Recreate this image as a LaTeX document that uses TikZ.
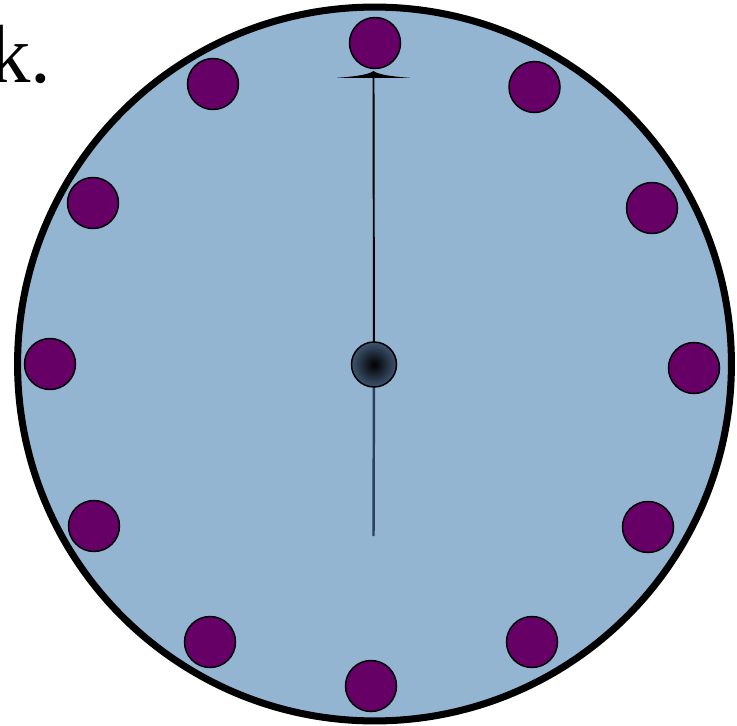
\documentclass[tikz,border=0pt]{standalone}
\usepackage{fontspec}
\setmainfont{Liberation Serif}
\usetikzlibrary{arrows.meta,positioning}

\definecolor{faceblue}{RGB}{148,181,210}
\definecolor{markpurple}{RGB}{102,0,102}
\definecolor{hubslate}{RGB}{62,84,112}
\definecolor{tailslate}{RGB}{44,64,94}

\begin{document}
\begin{tikzpicture}[
  x=0.02cm, y=-0.02cm,
  face/.style={circle, draw=black, line width=4pt, fill=faceblue, minimum size=14.28cm, inner sep=0pt},
  hourmark/.style={circle, draw=black, line width=0.85pt, fill=markpurple, minimum size=1.02cm, inner sep=0pt},
  hub/.style={circle, draw=black, line width=0.85pt, inner color=black, outer color=hubslate, minimum size=0.9cm, inner sep=0pt},
]
  \useasboundingbox (0,0) rectangle (737,726);
  \clip (0,0) rectangle (737,726);

  \node[face] (face) at (374.5,364) {};

  % hour marks
  \node[hourmark] (h12) at (375,43) {};
  \node[hourmark] (h1) at (534.5,87) {};
  \node[hourmark] (h2) at (652,208) {};
  \node[hourmark] (h3) at (694,368) {};
  \node[hourmark] (h4) at (648,527) {};
  \node[hourmark] (h5) at (532,642) {};
  \node[hourmark] (h6) at (371,686) {};
  \node[hourmark] (h7) at (210,642) {};
  \node[hourmark] (h8) at (94,526) {};
  \node[hourmark] (h9) at (50,364) {};
  \node[hourmark] (h10) at (93,203) {};
  \node[hourmark] (h11) at (213,84) {};

  % hand
  \coordinate (tip) at (373.5,77);
  \coordinate (tail) at (373.5,536);
  \draw[line width=1.4pt, tailslate] (374,364) -- (tail);
  \draw[line width=1.1pt, black] (374,364) -- (tip);
  \fill[black] (337,77.8) .. controls (356,76.5) and (369,74.5) .. (373.5,71)
    .. controls (378,74.5) and (391,76.5) .. (410,77.8) -- cycle;
  \node[hub] (hub) at (374,364.5) {};

  \node[anchor=base west, inner sep=0pt, font=\fontsize{47}{50}\selectfont] (caption) at (-11,83) {k.};
\end{tikzpicture}
\end{document}
